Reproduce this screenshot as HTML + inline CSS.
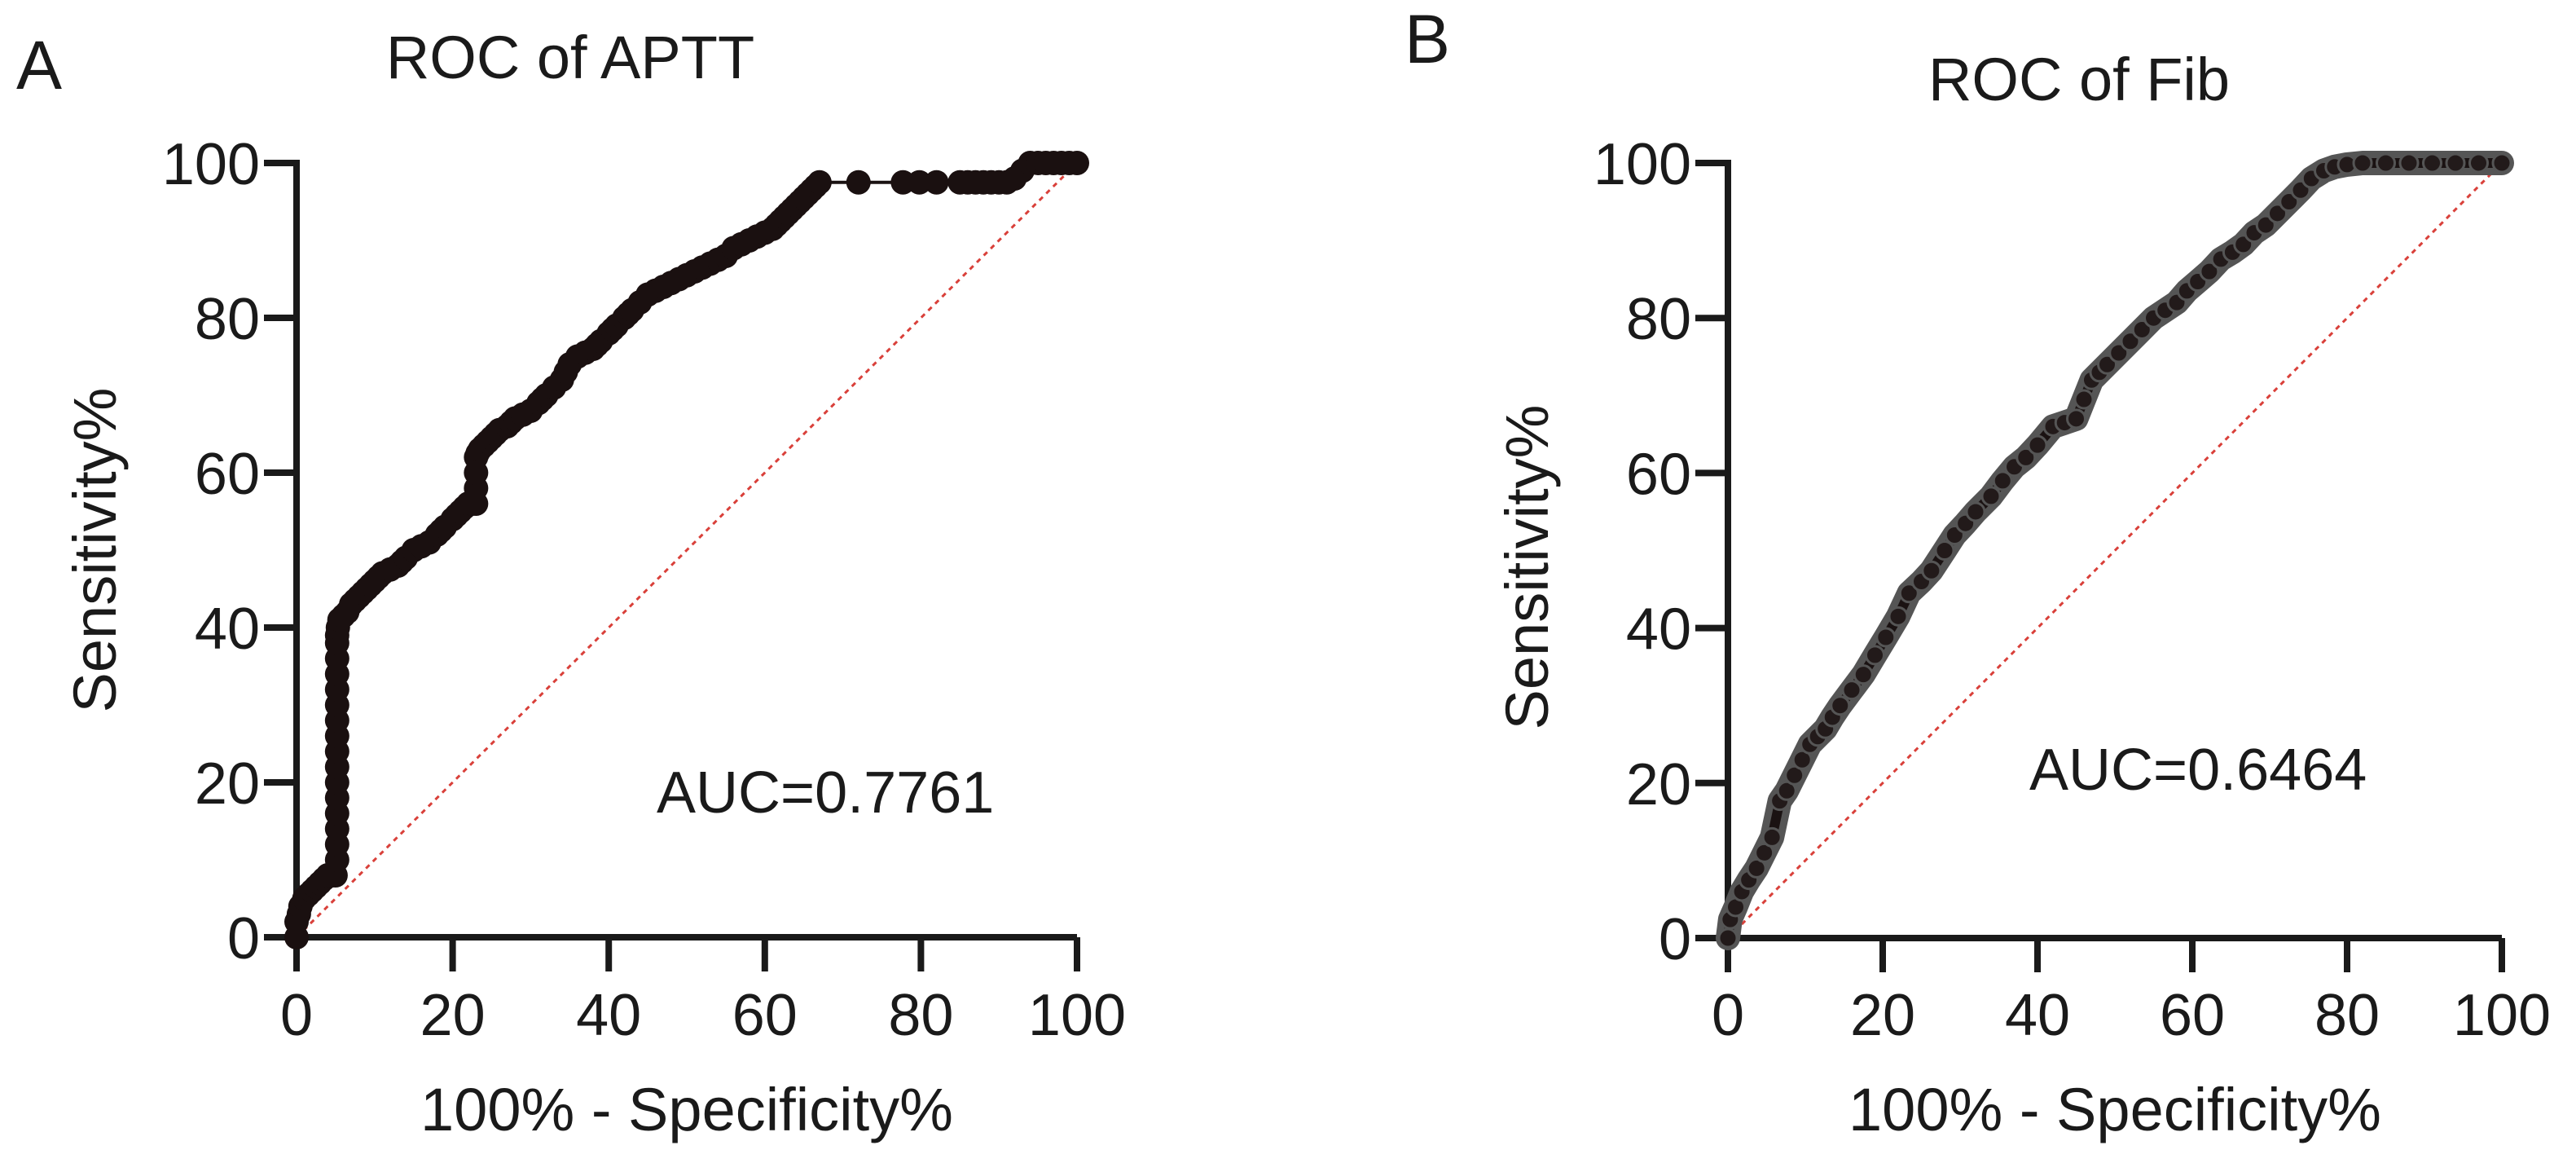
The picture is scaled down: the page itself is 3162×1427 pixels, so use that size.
<!DOCTYPE html>
<html><head><meta charset="utf-8"><style>
html,body{margin:0;padding:0;background:#fff;}
svg{display:block;}
text{font-family:"Liberation Sans",Arial,sans-serif;fill:#1a1a1a;}
</style></head><body>
<svg id="fig" width="3162" height="1427" viewBox="0 0 3162 1427" xmlns="http://www.w3.org/2000/svg"></svg>
<script>
const xTicks = [0,20,40,60,80,100];
const yTicks = [0,20,40,60,80,100];
const aptX = [0,0,0.3,0.5,1,1.5,2,2.5,3,3.5,4,4.5,5,5.2,5.2,5.2,5.2,5.2,5.2,5.2,5.2,5.2,5.2,5.2,5.2,5.2,5.2,5.2,5.2,5.3,5.5,6,6.5,7,7.5,8,8.5,9,9.5,10,10.5,11,12,13,13.5,14,15,16,17,18,18.5,19,20,20.5,21,21.5,22,22.5,23,23,23,23,23.2,23.5,24,24.5,25,25.5,26,27,27.5,28,29,30,31,31.5,32,33,34,34.5,35,36,37,38,38.5,39,40,40.5,41,42,42.5,43,44,45,46,47,48,49,50,51,52,53,54,55,56,57,58,59,60,61,61.5,62,62.5,63,63.5,64,64.5,65,65.5,66,66.5,67,72,77.7,79.8,82,85,86,87,88,89,90,91,92,93,94,95,96,97,98,99,100];
const aptY = [0,2,3,4,5,5.5,6,6.5,7,7.5,8,8,8,10,12,14,16,18,20,22,24,26,28,30,32,34,36,38,39,40,41,41.5,42,43,43.5,44,44.5,45,45.5,46,46.5,47,47.5,48,48.5,49,50,50.5,51,52,52.5,53,54,54.5,55,55.5,56,56,56,58,60,62,62.5,63,63.5,64,64.5,65,65.5,66,66.5,67,67.5,68,69,69.5,70,71,72,73,74,75,75.5,76,76.5,77,78,78.5,79,80,80.5,81,82,83,83.5,84,84.5,85,85.5,86,86.5,87,87.5,88,89,89.5,90,90.5,91,91.5,92,92.5,93,93.5,94,94.5,95,95.5,96,96.5,97,97.5,97.5,97.5,97.5,97.5,97.5,97.5,97.5,97.5,97.5,97.5,97.5,98,99,100,100,100,100,100,100,100];
const fibX = [0,0.3,1,1.8,2.7,3.7,4.7,5.7,6.7,7.6,8.6,9.6,10.6,11.6,12.6,13.5,14.5,16,17.5,19,20.4,22,23.4,25,26.3,28,29.3,30.7,32,34,35.5,37,38.5,40,42,43.5,45,46,47,48,49,50.5,52,53.5,55,56.5,58,59.3,60.7,62.2,63.7,65.2,66.6,68,69.5,71,72.5,74,75.4,77,78.4,80,82,85,88,91,94,97,100];
const fibY = [0,2.4,4,6,7.5,9,11,13,17.7,19,21,23,25,26,27,28.5,30,32,34,36.5,38.8,41.5,44.5,46,47.4,50,52,53.5,55,57,59,60.8,62,63.6,66,66.5,67,69.5,72,73,74,75.5,77,78.5,80,81,82,83.5,84.7,86,87.6,88.5,89.5,91,92,93.5,95,96.5,98,99,99.5,99.8,100,100,100,100,100,100,100];

const NS='http://www.w3.org/2000/svg';
const svg=document.getElementById('fig');
function mk(tag,attrs,parent){const e=document.createElementNS(NS,tag);for(const k in attrs)e.setAttribute(k,attrs[k]);(parent||svg).appendChild(e);return e;}

function panel(p){
  const g=mk('g',{});
  
  
  const sx=v=>p.x0+(p.x1-p.x0)*v/100;
  const sy=v=>p.y0-(p.y0-p.y1)*v/100;
  const d=mk('line',{x1:sx(0),y1:sy(0),x2:sx(100),y2:sy(100),stroke:'#d9403a','stroke-width':3,'stroke-dasharray':'6,6'},g);
  
  
  const ax=mk('path',{d:`M${sx(0)-40},${sy(100)} H${sx(0)} V${sy(0)} H${sx(100)}`,fill:'none',stroke:'#1a1a1a','stroke-width':8},g);
  
  
  yTicks.forEach(t=>{
    const l=mk('line',{x1:sx(0)-40,x2:sx(0),y1:sy(t),y2:sy(t),stroke:'#1a1a1a','stroke-width':8},g);
    
    
    const tx=mk('text',{x:sx(0)-45,y:sy(t)+26,'font-size':72,'text-anchor':'end'},g);
    tx.textContent=t;
    
    
  });
  xTicks.forEach(t=>{
    const l=mk('line',{x1:sx(t),x2:sx(t),y1:sy(0),y2:sy(0)+42,stroke:'#1a1a1a','stroke-width':8},g);
    
    
    const tx=mk('text',{x:sx(t),y:1270,'font-size':72,'text-anchor':'middle'},g);
    tx.textContent=t;
    
    
  });
  const pts=p.xs.map((v,i)=>sx(v)+','+sy(p.ys[i])).join(' ');
  if(p.band){
    const b=mk('polyline',{points:pts,fill:'none',stroke:'#555','stroke-width':30,'stroke-linejoin':'round','stroke-linecap':'round'},g);
    
    
    const b2=mk('polyline',{points:pts,fill:'none',stroke:'#1a1212','stroke-width':12,'stroke-linejoin':'round'},g);
    
    
  } else {
    const b=mk('polyline',{points:pts,fill:'none',stroke:'#1a1212','stroke-width':4},g);
    
    
  }
  p.xs.forEach((v,i)=>{
    const c=mk('circle',{cx:sx(v),cy:sy(p.ys[i]),r:p.r,fill:p.fill,stroke:p.stroke,'stroke-width':p.band?3:0},g);
    
    
  });
  const t=mk('text',{x:p.titleX,y:p.titleY,'font-size':74,'text-anchor':'middle'},g);
  t.textContent=p.title;
  
  
  const L=mk('text',{x:p.letterX,y:p.letterY,'font-size':84},g);
  L.textContent=p.letter;
  
  
  const xt=mk('text',{x:(p.x0+p.x1)/2,y:1387,'font-size':74,'text-anchor':'middle'},g);
  xt.textContent='100% - Specificity%';
  
  
  const yt=mk('text',{x:0,y:0,'font-size':74,'text-anchor':'middle',transform:`translate(${p.yTitleX},${p.yTitleY}) rotate(-90)`},g);
  yt.textContent='Sensitivity%';
  
  
  const au=mk('text',{x:p.aucX,y:p.aucY,'font-size':72},g);
  au.textContent=p.auc;
  
  
}
panel({name:'panel-a-aptt',x0:364,x1:1322,y0:1150,y1:200,xs:aptX,ys:aptY,r:15,fill:'#1a1010',stroke:'none',band:false,
  title:'ROC of APTT',titleX:700,titleY:96,letter:'A',letterX:20,letterY:109,yTitleX:142,yTitleY:675,aucX:806,aucY:997,auc:'AUC=0.7761'});
panel({name:'panel-b-fib',x0:2121,x1:3071,y0:1151,y1:200,xs:fibX,ys:fibY,r:11,fill:'#221a1a',stroke:'#555',band:true,
  title:'ROC of Fib',titleX:2552,titleY:123,letter:'B',letterX:1724,letterY:77,yTitleX:1900,yTitleY:696,aucX:2491,aucY:969,auc:'AUC=0.6464'});
</script>
</body></html>
